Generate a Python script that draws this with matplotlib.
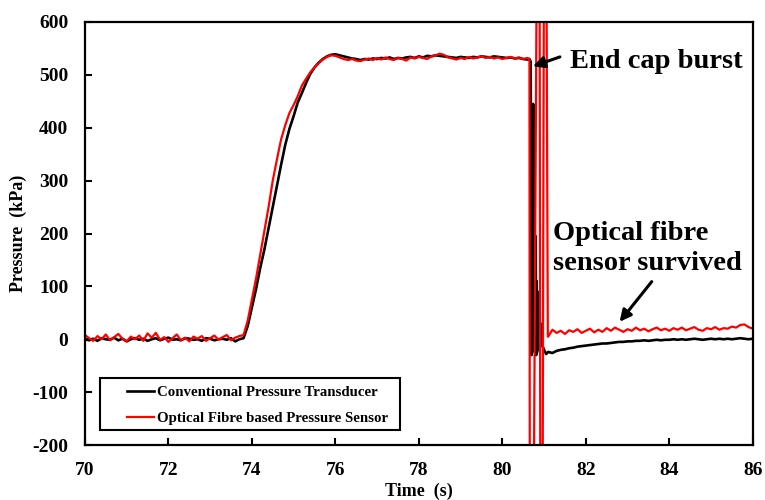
import numpy as np
import matplotlib
matplotlib.use("Agg")
import matplotlib.pyplot as plt
from matplotlib.patches import Rectangle

plt.rcParams['font.family'] = ['Liberation Serif', 'DejaVu Serif']
plt.rcParams['font.weight'] = 'bold'
plt.rcParams['axes.unicode_minus'] = False

# pressure before the burst, sampled every 0.1 s from 70.0 s
t_pre_start = 70.0
conv_pre = [0, -2, 1, -3, 2, 0, -1, 3, -2, 1,
            -4, 0, 2, -1, 1, -3, 0, 2, -2, 1,
            3, -1, 0, -2, 2, 1, -1, 0, -3, 2,
            1, -2, 0, 1, -1, 2, -4, 0,
            # ramp 73.8 - 75.9
            2, 25, 60, 95, 135, 170, 210, 250, 290, 330,
            368, 398, 422, 448, 466, 485, 502, 514, 523, 530,
            535, 538,
            # plateau 76.0 - 80.6
            539, 537, 535, 533, 531, 530, 528, 530, 529, 531,
            530, 532, 531, 533, 530, 532, 531, 533, 534, 532,
            535, 533, 536, 535, 537, 536, 535, 534, 533, 532,
            534, 533, 532, 534, 533, 535, 534, 533, 535, 534,
            533, 532, 533, 531, 532, 530, 529]
fibre_pre = [8, 2, -3, 6, 0, 9, -2, 4, 10, 1,
             -4, 5, 0, 7, -3, 11, 3, 12, -1, 4,
             -5, 2, 9, -2, 3, -4, 5, 1, 6, -3,
             2, 7, -1, 4, 8, -2, 3, 6,
             8, 35, 75, 115, 160, 205, 250, 300, 340, 378,
             405, 428, 443, 460, 480, 493, 505, 514, 522, 529,
             534, 537,
             536, 533, 530, 528, 530, 527, 526, 529, 531, 528,
             532, 529, 533, 530, 528, 532, 530, 527, 533, 531,
             534, 532, 530, 535, 537, 540, 538, 533, 531, 529,
             532, 530, 534, 531, 533, 535, 532, 534, 531, 533,
             530, 532, 534, 531, 533, 530, 532]

# burst: irregular sampling
t_conv_burst = [80.65, 80.68, 80.70, 80.72, 80.74, 80.75, 80.77, 80.78, 80.80,
                80.81, 80.82, 80.83, 80.85, 80.86, 80.88, 80.90, 80.92, 80.95,
                81.00, 81.05]
conv_burst = [530, 525, -30, 120, 445, -20, 380, -25, 195,
              -30, 110, -25, 90, -20, 60, -15, 30, -10,
              -20, -28]
t_fibre_burst = [80.65, 80.67, 80.88, 80.93, 81.02, 81.09]
fibre_burst = [530, -1500, 1500, -1500, 1500, 5]

# after the burst, every 0.1 s from 81.1 s
t_post_start = 81.1
conv_post = [-24, -26, -22, -20, -19, -17, -16, -14, -13, -12,
             -11, -10, -9, -8, -8, -7, -6, -5, -5, -4,
             -4, -3, -3, -2, -3, -2, -1, -2, -1, -1,
             0, -1, 0, -1, 0, 1, 0, -1, 0, 1,
             0, 1, 0, 1, 0, 1, 2, 1, 0, 1]
fibre_post = [5, 18, 12, 16, 10, 17, 14, 19, 12, 16,
              20, 13, 18, 14, 21, 16, 22, 18, 14, 19,
              16, 22, 17, 20, 15, 19, 22, 17, 20, 16,
              21, 18, 22, 17, 20, 23, 18, 16, 21, 19,
              23, 18, 21, 20, 24, 22, 27, 28, 23, 20]


def series(pre, t_burst, burst, post):
    t1 = t_pre_start + 0.1 * np.arange(len(pre))
    t3 = t_post_start + 0.1 * np.arange(len(post))
    return (np.concatenate([t1, t_burst, t3]),
            np.concatenate([pre, burst, post]))


t_conv, p_conv = series(conv_pre, t_conv_burst, conv_burst, conv_post)
t_fibre, p_fibre = series(fibre_pre, t_fibre_burst, fibre_burst, fibre_post)

fig = plt.figure(figsize=(7.65, 5.0), dpi=100)
ax = fig.add_axes([0.111, 0.11, 0.873, 0.846])

ax.plot(t_conv, p_conv, color='black', lw=1.9, label='Conventional Pressure Transducer')
ax.plot(t_fibre, p_fibre, color='red', lw=1.6, label='Optical Fibre based Pressure Sensor')

ax.set_xlim(70, 86)
ax.set_ylim(-200, 600)
ax.set_xticks(np.arange(70, 87, 2))
ax.set_yticks(np.arange(-200, 601, 100))
ax.tick_params(direction='in', length=5, width=1.5, labelsize=14, pad=12)
for lab in ax.get_xticklabels() + ax.get_yticklabels():
    lab.set_fontweight('bold')
for sp in ax.spines.values():
    sp.set_linewidth(1.6)

ax.set_xlabel('Time  (s)', fontsize=13, fontweight='bold', labelpad=3)
ax.set_ylabel('Pressure  (kPa)', fontsize=13, fontweight='bold', labelpad=4)

# legend box drawn separately so the entries can sit further in
ax.add_patch(Rectangle((0.0225, 0.0355), 0.449, 0.123, transform=ax.transAxes,
                       fill=True, facecolor='white', edgecolor='black',
                       lw=1.5, zorder=4))
leg = ax.legend(loc='upper left', bbox_to_anchor=(0.0629, 0.140), fontsize=10.7,
                handlelength=1.8, handletextpad=0.2, borderpad=0,
                labelspacing=0.85, frameon=False, borderaxespad=0)
leg.set_zorder(5)
for txt in leg.get_texts():
    txt.set_fontweight('bold')

arrow = dict(arrowstyle='-|>', color='black', lw=2.2, mutation_scale=17,
             shrinkA=0, shrinkB=0)
ax.annotate('', xy=(80.73, 516), xytext=(81.38, 534), arrowprops=arrow)
ax.text(81.62, 526, 'End cap burst', fontsize=20.5, fontweight='bold',
        ha='left', va='center')
ax.annotate('', xy=(82.81, 33), xytext=(83.58, 109), arrowprops=arrow)
ax.text(81.21, 172, 'Optical fibre\nsensor survived', fontsize=20.5,
        fontweight='bold', ha='left', va='center', linespacing=1.25)

fig.savefig('out.png', dpi=100)
